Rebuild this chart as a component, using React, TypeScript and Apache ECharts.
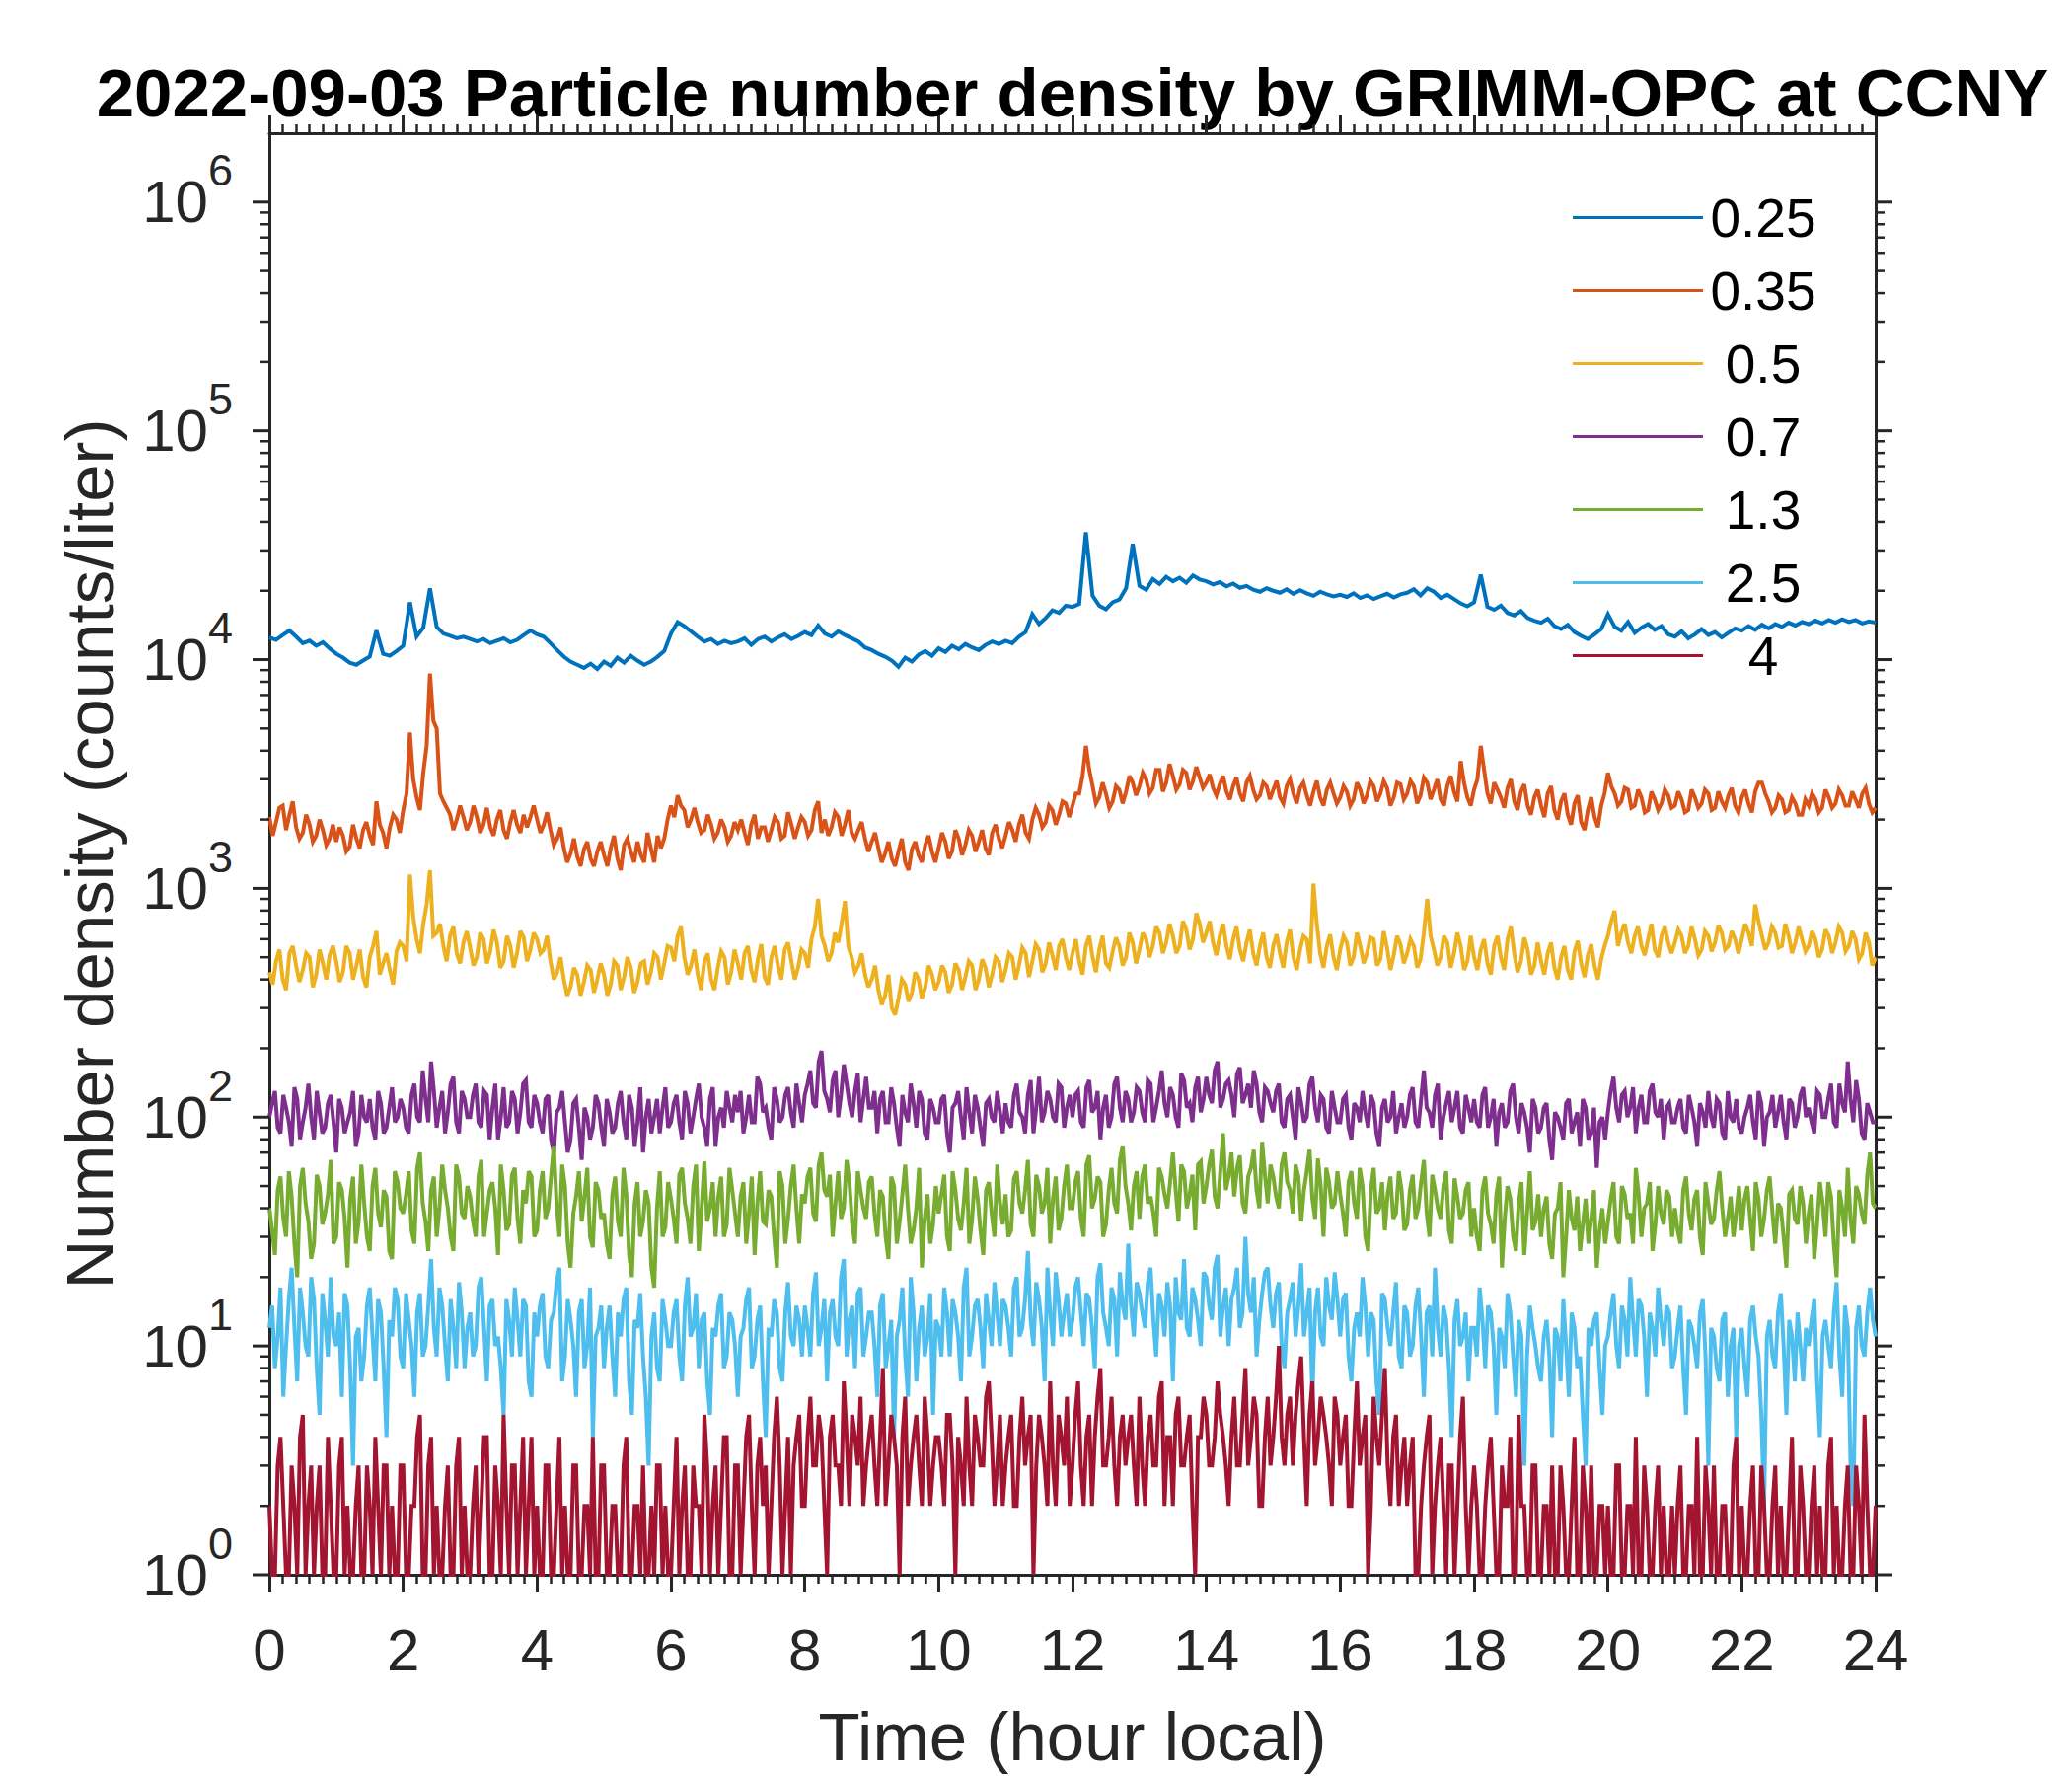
import React, { useEffect, useRef } from 'react';
import * as echarts from 'echarts';

const FONT = '"Liberation Sans", Arial, Helvetica, sans-serif';
const AXIS_COLOR = '#262626';

const sizeNames = ['0.25', '0.35', '0.5', '0.7', '1.3', '2.5', '4'];
const sizeColors = ['#0072BD', '#D95319', '#EDB120', '#7E2F8E', '#77AC30', '#4DBEEE', '#A2142F'];

const titleText = '2022-09-03 Particle number density by GRIMM-OPC at CCNY';
const xName = 'Time (hour local)';
const yName = 'Number density (counts/liter)';
const xMin = 0;
const xMax = 24;
const xStep = 2;
const yMin = 1;
const yMax = 2e6;
const yDecades = [1, 10, 100, 1000, 10000, 100000, 1000000];
const yMinorMultipliers = [2, 3, 4, 5, 6, 7, 8, 9];

// 0.1 h sampling (241 points)
const d025 = [
  12500, 12200, 12800, 13400, 12600, 11800, 12100, 11500, 11900, 11200,
  10600, 10200, 9700, 9500, 9900, 10300, 13400, 10600, 10400, 10900,
  11500, 17800, 12600, 13800, 20500, 13900, 13000, 12700, 12400, 12600,
  12300, 12000, 12300, 11800, 12100, 12400, 11900, 12200, 12800, 13400,
  12900, 12600, 11800, 11000, 10300, 9800, 9500, 9200, 9600, 9100,
  9800, 9400, 10200, 9700, 10400, 9900, 9500, 9800, 10300, 10900,
  13000, 14600, 14000, 13300, 12600, 12000, 12300, 11700, 12100, 11800,
  12000, 12400, 11600, 12300, 12600, 12000, 12500, 12900, 12300, 12700,
  13200, 12800, 14100, 13000, 12600, 13300, 12800, 12400, 12000, 11300,
  11000, 10600, 10300, 9900, 9300, 10200, 9800, 10500, 10900, 10400,
  11200, 10800, 11500, 11100, 11700, 11300, 11000, 11600, 12000, 11700,
  12100, 11800, 12600, 13200, 15800, 14300, 15200, 16400, 16000, 17200,
  17000, 17500, 36000, 19000, 17200, 16600, 17800, 18300, 20500, 32000,
  21000, 20200, 22500, 21400, 23000, 22000, 22800, 21700, 23300, 22400,
  22000, 21300, 21800, 20900, 21500, 20600, 21000, 20200, 19800, 20500,
  20000, 19600, 20300, 19400, 20100, 19500, 19000, 19800, 19300, 18900,
  19200, 18800, 19500, 18600, 19100, 18400, 18900, 19400, 18700, 19300,
  19600, 20300, 19100, 20500, 19800, 18600, 19200, 18400, 17600, 17100,
  17800, 23500, 17000, 16500, 17200, 16000, 15600, 16300, 15200, 14800,
  14500, 15100, 14000, 13600, 14200, 13200, 12700, 12300, 12900, 13600,
  15800, 13900, 13400, 14600, 13100, 13800, 14300, 13500, 14000, 12900,
  12600, 13300, 12400, 12900, 13600, 12800, 13200, 12500, 13100, 13700,
  13400, 14000, 13500, 14200, 13700, 14300, 13900, 14500, 14100, 14600,
  14300, 14800, 14400, 14900, 14500, 15000, 14600, 14900, 14400, 14700,
  14500,
];

const d035 = [
  2050, 1950, 2300, 2100, 1850, 1750, 1900, 1700, 1800, 1650,
  1600, 1700, 1520, 1650, 1800, 1700, 2400, 1750, 1850, 2000,
  2200, 4800, 2500, 3200, 8700, 5000, 2400, 2100, 2000, 2050,
  1950, 2050, 1900, 1850, 2000, 1800, 1950, 1900, 2100, 2050,
  2000, 1900, 1800, 1650, 1500, 1420, 1380, 1480, 1350, 1450,
  1400, 1500, 1350, 1550, 1450, 1600, 1300, 1500, 1700, 1650,
  2300, 2550, 2200, 2000, 1950, 1800, 1900, 1750, 1850, 1700,
  1800, 1750, 1900, 1650, 1850, 1800, 1950, 1700, 1900, 1850,
  1950, 1800, 2400, 2000, 1850, 2050, 1900, 1750, 1800, 1650,
  1600, 1500, 1420, 1350, 1450, 1300, 1480, 1400, 1550, 1450,
  1500, 1600, 1450, 1650, 1550, 1700, 1600, 1500, 1750, 1650,
  1700, 1800, 1900, 1750, 2000, 2100, 1950, 2200, 2100, 2350,
  2300, 2600, 4200, 2800, 2500, 2600, 2400, 2700, 2650, 2900,
  2800, 3000, 2750, 3300, 2900, 3100, 2850, 3200, 2950, 3050,
  2900, 2750, 2850, 2650, 2800, 2600, 2900, 2700, 2550, 2800,
  2700, 2500, 2800, 2600, 2750, 2550, 2650, 2500, 2700, 2600,
  2500, 2650, 2450, 2700, 2550, 2800, 2600, 2750, 2500, 2850,
  2600, 2800, 2550, 2900, 2700, 2450, 2800, 2650, 3600, 2500,
  2700, 4200, 2600, 2900, 2500, 2750, 2400, 2650, 2300, 2500,
  2300, 2600, 2200, 2400, 2100, 2350, 1950, 2200, 2050, 2300,
  3200, 2600, 2400, 2700, 2300, 2500, 2200, 2450, 2350, 2550,
  2300, 2450, 2200, 2500, 2350, 2600, 2250, 2400, 2550, 2300,
  2500, 2350, 2650, 2900, 2400, 2250, 2450, 2200, 2350, 2100,
  2300, 2450, 2250, 2500, 2350, 2550, 2300, 2450, 2600, 2350,
  2250,
];
const d035mid = [
  1700, 2250, 1800, 2400, 1650, 2100, 1600, 2000, 1550, 1900,
  1850, 1450, 1900, 1500, 1950, 1550, 1900, 1500, 2100, 1750,
  2600, 3000, 2200, 4200, 5400, 2600, 2250, 1800, 2300, 1800,
  2300, 1750, 2250, 1700, 2200, 1650, 2200, 1750, 1850, 2300,
  1750, 2150, 1550, 1850, 1300, 1650, 1250, 1600, 1250, 1600,
  1250, 1700, 1200, 1650, 1300, 1400, 1750, 1300, 1500, 2000,
  2050, 2300, 1850, 2250, 1750, 2100, 1650, 2000, 1600, 1950,
  2000, 1550, 2100, 1850, 1600, 2050, 1650, 2150, 1650, 2050,
  1700, 2200, 1750, 1700, 2150, 1700, 2200, 1650, 1950, 1450,
  1750, 1300, 1600, 1250, 1650, 1200, 1600, 1300, 1700, 1300,
  1750, 1350, 1800, 1400, 1800, 1450, 1800, 1400, 1900, 1500,
  1950, 1600, 2100, 1650, 2250, 1850, 2300, 1900, 2400, 2050,
  2600, 3100, 3300, 2350, 2900, 2250, 2800, 2350, 3100, 2550,
  3200, 2600, 3300, 2650, 3500, 2700, 3300, 2700, 3400, 2750,
  3150, 2550, 3100, 2450, 3050, 2400, 3100, 2450, 2900, 2450,
  2950, 2350, 3000, 2350, 2900, 2300, 2950, 2300, 2900, 2350,
  2800, 2300, 2900, 2350, 2950, 2400, 2950, 2300, 2900, 2450,
  2950, 2350, 3050, 2450, 3000, 2300, 3100, 2400, 2900, 2300,
  3000, 3300, 2350, 2700, 2250, 3000, 2200, 2850, 2100, 2700,
  2050, 2800, 2000, 2600, 1900, 2550, 1800, 2500, 1850, 2600,
  2800, 2300, 2750, 2250, 2700, 2150, 2650, 2200, 2700, 2250,
  2650, 2150, 2700, 2250, 2700, 2200, 2650, 2250, 2750, 2150,
  2700, 2150, 2900, 2600, 2150, 2550, 2150, 2500, 2100, 2450,
  2600, 2150, 2700, 2250, 2700, 2300, 2650, 2250, 2750, 2150,
];

const d05 = [
  430, 480, 400, 520, 460, 440, 500, 420, 470, 510,
  480, 430, 520, 460, 410, 500, 650, 470, 440, 530,
  560, 1150, 600, 700, 1200, 640, 560, 620, 520, 580,
  550, 500, 600, 530, 580, 480, 560, 520, 610, 540,
  600, 540, 480, 430, 400, 370, 420, 390, 440, 400,
  420, 380, 460, 410, 450, 390, 480, 430, 500, 470,
  550, 620, 500, 460, 420, 480, 400, 450, 500, 430,
  470, 520, 440, 490, 410, 500, 460, 540, 480, 450,
  520, 600, 900, 560, 520, 580, 880, 500, 460, 420,
  400, 360, 340, 300, 330, 380, 350, 400, 370, 420,
  390, 430, 380, 440, 410, 460, 400, 450, 420, 480,
  440, 500, 460, 520, 480, 540, 470, 510, 560, 500,
  520, 480, 560, 500, 540, 470, 530, 560, 500, 580,
  540, 600, 560, 640, 580, 620, 560, 660, 600, 700,
  640, 580, 620, 560, 600, 540, 580, 520, 560, 500,
  560, 520, 580, 500, 540, 600, 1050, 520, 560, 500,
  540, 580, 500, 560, 520, 600, 490, 550, 510, 570,
  520, 560, 490, 900, 540, 500, 580, 520, 560, 480,
  500, 540, 470, 560, 500, 600, 520, 480, 540, 460,
  480, 520, 450, 500, 440, 530, 470, 510, 460, 490,
  620, 800, 640, 580, 620, 560, 600, 540, 620, 580,
  580, 620, 560, 600, 540, 620, 580, 640, 560, 600,
  600, 640, 850, 620, 580, 640, 560, 620, 580, 600,
  560, 600, 540, 620, 580, 640, 560, 600, 520, 580,
  500,
];
const d05mid = [
  380, 540, 360, 560, 390, 520, 370, 540, 400, 560,
  390, 560, 400, 540, 370, 560, 420, 520, 380, 580,
  480, 750, 520, 850, 620, 700, 480, 680, 470, 650,
  460, 640, 470, 660, 450, 620, 450, 650, 480, 640,
  520, 620, 400, 500, 340, 450, 340, 460, 350, 470,
  340, 480, 360, 500, 350, 470, 380, 520, 400, 560,
  480, 680, 420, 540, 360, 520, 360, 530, 380, 540,
  400, 560, 390, 570, 380, 560, 400, 580, 400, 540,
  450, 680, 620, 480, 640, 700, 560, 430, 520, 370,
  460, 310, 420, 280, 400, 320, 430, 330, 460, 360,
  460, 350, 470, 360, 480, 360, 490, 370, 500, 390,
  520, 400, 550, 410, 570, 430, 580, 440, 600, 440,
  600, 420, 620, 430, 620, 450, 610, 460, 640, 470,
  640, 500, 680, 520, 700, 520, 720, 540, 780, 580,
  720, 510, 700, 490, 680, 480, 660, 460, 640, 450,
  630, 450, 660, 440, 620, 470, 700, 450, 630, 440,
  620, 460, 640, 470, 610, 460, 650, 440, 620, 470,
  600, 450, 640, 620, 460, 620, 450, 640, 440, 620,
  440, 600, 420, 620, 440, 680, 430, 610, 420, 580,
  420, 580, 400, 560, 400, 590, 410, 570, 400, 560,
  720, 560, 700, 520, 680, 510, 700, 500, 680, 520,
  660, 520, 680, 510, 650, 530, 690, 540, 650, 520,
  700, 560, 720, 540, 680, 550, 700, 520, 680, 530,
  650, 500, 660, 520, 680, 530, 650, 490, 640, 460,
];

// 5 min sampling on the hour grid (289 points) ...
const d07 = [
  100, 130, 85, 110, 75, 120, 95, 140, 80, 105, 90, 125,
  70, 110, 95, 130, 85, 100, 120, 80, 115, 90, 135, 100,
  110, 85, 140, 95, 120, 175, 90, 130, 105, 150, 85, 120,
  100, 140, 90, 125, 110, 80, 135, 95, 120, 105, 145, 90,
  115, 85, 125, 70, 110, 95, 80, 120, 65, 100, 90, 115,
  75, 105, 90, 130, 80, 110, 95, 70, 120, 100, 85, 135,
  95, 125, 80, 115, 100, 140, 90, 120, 75, 110, 130, 95,
  105, 85, 125, 95, 140, 110, 80, 120, 100, 135, 90, 115,
  125, 160, 110, 195, 120, 145, 100, 170, 115, 130, 95, 150,
  110, 85, 130, 95, 115, 75, 105, 140, 90, 120, 80, 110,
  95, 125, 70, 115, 100, 135, 85, 110, 75, 120, 95, 105,
  115, 90, 140, 100, 125, 85, 150, 105, 120, 95, 135, 110,
  100, 130, 90, 145, 110, 80, 125, 100, 150, 95, 120, 105,
  130, 95, 140, 110, 160, 100, 125, 90, 145, 115, 135, 105,
  150, 115, 175, 120, 145, 100, 165, 125, 110, 140, 95, 130,
  105, 140, 90, 125, 80, 115, 100, 150, 95, 120, 85, 110,
  95, 125, 80, 110, 130, 90, 115, 75, 120, 100, 85, 115,
  100, 135, 90, 160, 105, 125, 80, 115, 95, 130, 85, 110,
  120, 90, 135, 100, 75, 115, 95, 140, 85, 105, 70, 110,
  90, 115, 65, 100, 80, 120, 95, 75, 110, 85, 60, 100,
  105, 150, 95, 130, 110, 85, 125, 95, 140, 100, 80, 115,
  95, 120, 85, 110, 75, 105, 130, 90, 115, 80, 100, 120,
  85, 110, 95, 130, 75, 105, 90, 125, 80, 115, 100, 135,
  110, 85, 125, 100, 140, 90, 115, 175, 95, 120, 80, 105,
  95,
];
// ... and the samples 2.5 min later (288 points)
const d07mid = [
  115, 90, 125, 95, 135, 80, 110, 100, 130, 85, 115, 95,
  120, 85, 105, 75, 125, 95, 90, 130, 85, 110, 95, 120,
  90, 125, 100, 160, 95, 130, 110, 85, 140, 95, 130, 100,
  125, 95, 130, 80, 140, 100, 90, 130, 85, 140, 95, 125,
  95, 120, 80, 105, 130, 70, 115, 90, 110, 80, 125, 90,
  120, 85, 115, 95, 125, 75, 135, 100, 85, 120, 110, 90,
  115, 95, 130, 85, 120, 100, 75, 135, 100, 90, 110, 125,
  130, 100, 95, 150, 105, 90, 135, 95, 125, 105, 140, 95,
  140, 115, 175, 130, 105, 160, 125, 140, 100, 155, 120, 110,
  130, 120, 95, 135, 90, 125, 95, 115, 130, 85, 120, 95,
  120, 85, 110, 130, 80, 105, 125, 90, 115, 100, 130, 85,
  95, 125, 105, 85, 145, 110, 95, 130, 100, 140, 90, 125,
  125, 95, 135, 105, 130, 110, 90, 140, 110, 130, 95, 135,
  105, 145, 95, 130, 115, 135, 100, 155, 110, 95, 150, 120,
  125, 160, 110, 140, 125, 155, 115, 140, 160, 105, 135, 115,
  130, 95, 120, 100, 135, 95, 140, 110, 125, 90, 130, 95,
  120, 90, 115, 95, 105, 125, 85, 110, 95, 130, 100, 90,
  125, 95, 120, 110, 90, 140, 100, 130, 110, 90, 125, 95,
  95, 125, 90, 120, 105, 90, 130, 100, 115, 90, 120, 85,
  110, 80, 105, 90, 115, 85, 105, 120, 80, 110, 95, 80,
  130, 110, 125, 100, 135, 110, 95, 130, 105, 120, 110, 95,
  110, 90, 125, 95, 115, 90, 100, 120, 85, 130, 95, 90,
  100, 125, 80, 115, 100, 125, 105, 95, 120, 90, 125, 100,
  95, 130, 100, 120, 95, 140, 105, 120, 145, 85, 115, 95,
];

const d13 = [
  40, 25, 55, 30, 45, 20, 60, 35, 28, 50, 38, 65,
  30, 48, 22, 55, 35, 42, 26, 60, 33, 45, 24, 52,
  38, 58, 28, 70, 35, 48, 30, 62, 40, 26, 55, 36,
  45, 30, 65, 38, 52, 25, 48, 34, 60, 28, 42, 55,
  32, 58, 40, 75, 30, 50, 22, 45, 35, 60, 27, 48,
  38, 24, 55, 30, 46, 20, 52, 35, 42, 18, 58, 33,
  44, 28, 60, 36, 50, 26, 64, 40, 30, 55, 34, 48,
  30, 52, 38, 25, 58, 34, 45, 22, 50, 36, 62, 28,
  42, 60, 35, 70, 45, 30, 58, 40, 52, 28, 48, 36,
  55, 30, 45, 24, 50, 35, 62, 28, 40, 22, 46, 34,
  38, 56, 26, 48, 32, 60, 36, 44, 25, 52, 30, 42,
  46, 32, 58, 38, 65, 30, 50, 42, 28, 55, 36, 62,
  40, 58, 30, 68, 44, 52, 34, 60, 38, 75, 42, 50,
  36, 62, 45, 30, 55, 40, 70, 35, 58, 46, 32, 64,
  50, 72, 40, 85, 55, 45, 68, 38, 60, 48, 78, 42,
  55, 40, 70, 48, 62, 35, 58, 44, 66, 30, 52, 42,
  46, 30, 58, 36, 50, 26, 60, 40, 32, 55, 38, 48,
  34, 56, 40, 65, 30, 48, 36, 58, 28, 45, 38, 52,
  40, 26, 55, 34, 46, 22, 50, 30, 42, 25, 58, 35,
  30, 45, 24, 40, 20, 48, 32, 26, 44, 36, 22, 40,
  35, 52, 28, 46, 38, 60, 30, 42, 26, 50, 34, 45,
  40, 28, 55, 32, 48, 25, 42, 36, 58, 30, 45, 38,
  32, 50, 26, 44, 36, 55, 28, 40, 22, 48, 34, 42,
  38, 24, 52, 30, 45, 20, 40, 60, 28, 46, 34, 70,
  40,
];
const d13mid = [
  32, 48, 36, 58, 28, 50, 42, 24, 56, 34, 46, 28,
  52, 36, 44, 28, 62, 30, 50, 38, 48, 26, 58, 40,
  46, 32, 60, 42, 26, 55, 40, 48, 30, 62, 38, 50,
  35, 55, 30, 48, 40, 62, 32, 56, 36, 48, 58, 30,
  48, 36, 55, 42, 62, 28, 38, 58, 45, 30, 52, 36,
  28, 46, 35, 60, 25, 42, 30, 48, 22, 40, 30, 52,
  36, 56, 42, 28, 62, 40, 35, 52, 45, 30, 60, 38,
  45, 28, 55, 42, 35, 48, 30, 58, 28, 50, 40, 46,
  55, 38, 62, 48, 56, 42, 36, 65, 34, 58, 40, 52,
  38, 48, 30, 55, 28, 46, 40, 32, 60, 36, 28, 50,
  46, 30, 58, 36, 42, 28, 55, 32, 48, 38, 62, 34,
  30, 54, 42, 48, 34, 56, 38, 60, 44, 32, 50, 40,
  52, 36, 62, 40, 55, 30, 48, 42, 65, 50, 32, 58,
  55, 42, 38, 60, 46, 52, 48, 62, 40, 56, 62, 42,
  62, 45, 58, 48, 70, 60, 42, 55, 72, 40, 56, 62,
  45, 62, 52, 38, 55, 48, 72, 36, 50, 60, 40, 58,
  38, 52, 42, 60, 30, 48, 38, 52, 46, 36, 58, 32,
  48, 36, 52, 38, 56, 40, 50, 32, 54, 36, 48, 30,
  30, 48, 38, 28, 55, 36, 44, 26, 52, 38, 32, 46,
  40, 28, 38, 52, 30, 36, 45, 34, 28, 48, 32, 28,
  44, 30, 50, 36, 28, 46, 40, 52, 34, 38, 48, 30,
  32, 48, 38, 44, 30, 52, 34, 48, 40, 36, 30, 50,
  44, 36, 52, 30, 48, 38, 42, 30, 46, 36, 50, 28,
  46, 34, 42, 52, 28, 48, 30, 36, 50, 38, 56, 42,
];

const d25 = [
  12, 8, 18, 10, 22, 7, 14, 9, 16, 5, 13, 20,
  10, 6, 15, 3, 12, 9, 18, 7, 14, 4, 11, 16,
  8, 13, 6, 17, 10, 24, 9, 15, 7, 12, 19, 8,
  14, 10, 20, 7, 16, 11, 5, 13, 18, 9, 15, 6,
  11, 17, 8, 14, 22, 9, 13, 6, 16, 10, 4, 12,
  8, 15, 6, 11, 18, 5, 12, 9, 3, 14, 7, 13,
  10, 16, 7, 20, 12, 8, 14, 5, 11, 17, 9, 13,
  6, 12, 18, 9, 15, 4, 11, 14, 7, 19, 10, 13,
  15, 9, 21, 12, 7, 16, 10, 24, 13, 8, 18, 11,
  14, 6, 17, 10, 4, 13, 9, 20, 7, 15, 11, 5,
  12, 18, 9, 14, 7, 22, 11, 16, 8, 13, 19, 10,
  15, 9, 20, 12, 26, 10, 16, 7, 14, 21, 11, 17,
  13, 20, 10, 16, 8, 23, 12, 18, 9, 15, 28, 11,
  17, 12, 22, 9, 15, 19, 7, 14, 24, 11, 16, 10,
  20, 13, 25, 15, 10, 18, 12, 30, 14, 9, 17, 22,
  12, 19, 8, 16, 11, 23, 14, 6, 18, 10, 15, 21,
  11, 17, 7, 14, 20, 9, 13, 5, 16, 10, 19, 8,
  14, 10, 18, 6, 15, 22, 9, 13, 4, 16, 11, 7,
  12, 18, 8, 14, 5, 11, 17, 9, 13, 3, 15, 10,
  7, 13, 4, 11, 16, 6, 12, 9, 3, 10, 14, 5,
  11, 17, 8, 13, 20, 9, 15, 6, 12, 18, 10, 14,
  9, 15, 5, 12, 8, 16, 3, 11, 7, 14, 10, 4,
  12, 6, 15, 9, 2, 13, 8, 17, 5, 11, 14, 7,
  10, 16, 4, 13, 8, 19, 6, 12, 2, 15, 9, 18,
  11,
];
const d25mid = [
  15, 11, 6, 16, 12, 18, 10, 20, 8, 17, 9, 11,
  14, 17, 8, 11, 7, 15, 11, 16, 8, 13, 18, 9,
  17, 10, 14, 9, 15, 12, 18, 10, 16, 8, 14, 12,
  9, 18, 12, 15, 10, 8, 16, 9, 13, 16, 7, 14,
  15, 9, 13, 19, 7, 16, 10, 14, 8, 18, 11, 15,
  12, 9, 14, 16, 7, 13, 17, 6, 11, 8, 16, 10,
  14, 9, 15, 11, 17, 13, 7, 12, 15, 8, 14, 10,
  11, 16, 8, 13, 7, 12, 16, 8, 14, 11, 15, 9,
  12, 17, 10, 16, 14, 11, 20, 9, 15, 17, 9, 14,
  10, 15, 8, 13, 11, 18, 6, 14, 12, 9, 17, 13,
  9, 14, 16, 11, 18, 9, 15, 12, 17, 10, 14, 16,
  12, 18, 11, 16, 13, 19, 12, 22, 10, 16, 14, 11,
  18, 14, 17, 12, 20, 14, 10, 16, 21, 13, 15, 19,
  14, 19, 13, 17, 11, 15, 20, 13, 12, 18, 13, 21,
  15, 22, 11, 18, 16, 22, 14, 17, 20, 13, 21, 15,
  17, 10, 14, 19, 15, 11, 18, 14, 11, 20, 13, 16,
  16, 9, 12, 11, 15, 14, 7, 17, 12, 14, 9, 15,
  9, 15, 11, 14, 9, 12, 15, 8, 13, 10, 14, 12,
  9, 13, 15, 10, 12, 8, 14, 6, 11, 9, 12, 8,
  11, 9, 12, 7, 10, 14, 8, 5, 12, 13, 8, 10,
  14, 10, 15, 9, 13, 16, 11, 14, 9, 13, 15, 8,
  12, 8, 13, 10, 14, 9, 12, 8, 13, 6, 12, 10,
  8, 13, 11, 5, 11, 9, 14, 10, 13, 7, 10, 12,
  13, 7, 11, 10, 14, 9, 15, 3, 12, 10, 14, 13,
];

const d4 = [
  2, 1, 4, 1, 3, 1, 5, 2, 1, 3, 1, 2,
  1, 4, 2, 1, 3, 1, 2, 4, 1, 3, 2, 1,
  3, 1, 2, 5, 1, 4, 2, 1, 3, 1, 4, 2,
  1, 3, 2, 4, 1, 2, 5, 1, 3, 2, 1, 4,
  2, 1, 3, 1, 4, 2, 1, 3, 1, 2, 4, 1,
  3, 1, 2, 1, 4, 1, 2, 3, 1, 1, 3, 2,
  1, 4, 2, 1, 3, 2, 5, 1, 3, 2, 4, 1,
  3, 2, 5, 1, 4, 3, 2, 6, 1, 4, 3, 5,
  2, 6, 3, 4, 1, 5, 3, 7, 2, 4, 6, 3,
  5, 2, 8, 3, 4, 1, 6, 3, 5, 2, 4, 3,
  4, 2, 5, 1, 3, 6, 2, 4, 3, 7, 2, 5,
  3, 5, 2, 6, 4, 1, 5, 3, 7, 2, 4, 6,
  3, 7, 2, 5, 4, 8, 3, 6, 2, 5, 4, 3,
  6, 2, 5, 3, 7, 4, 2, 6, 3, 5, 1, 4,
  5, 3, 7, 4, 2, 6, 3, 8, 4, 5, 2, 6,
  4, 10, 3, 6, 5, 9, 2, 7, 4, 5, 3, 6,
  3, 5, 2, 7, 4, 1, 6, 3, 8, 2, 5, 3,
  2, 4, 1, 3, 5, 2, 4, 1, 3, 2, 6, 1,
  3, 1, 2, 4, 1, 3, 2, 1, 5, 2, 1, 3,
  1, 2, 3, 1, 2, 1, 4, 1, 2, 3, 1, 2,
  2, 1, 3, 1, 2, 4, 1, 2, 1, 3, 2, 1,
  1, 3, 1, 2, 4, 1, 2, 3, 1, 2, 1, 4,
  2, 1, 3, 1, 2, 1, 3, 2, 1, 4, 1, 2,
  1, 3, 2, 1, 4, 2, 1, 3, 1, 2, 5, 1,
  2,
];
const d4mid = [
  1, 3, 2, 1, 2, 4, 1, 3, 2, 1, 4, 1,
  3, 1, 1, 2, 1, 3, 1, 2, 3, 1, 1, 3,
  1, 2, 4, 1, 3, 1, 1, 2, 1, 3, 1, 1,
  2, 1, 4, 1, 3, 1, 2, 3, 1, 4, 2, 1,
  1, 3, 1, 2, 1, 1, 3, 1, 2, 1, 1, 3,
  1, 2, 1, 3, 1, 2, 1, 1, 2, 3, 1, 1,
  2, 1, 3, 1, 2, 1, 3, 2, 1, 4, 1, 3,
  1, 4, 2, 3, 2, 1, 4, 3, 2, 1, 4, 2,
  4, 3, 5, 2, 4, 3, 2, 4, 5, 3, 2, 4,
  3, 4, 2, 5, 3, 4, 2, 4, 3, 6, 2, 4,
  3, 5, 3, 4, 2, 3, 5, 3, 6, 4, 3, 2,
  4, 2, 4, 3, 5, 3, 4, 2, 3, 5, 3, 2,
  5, 3, 4, 2, 6, 3, 4, 3, 4, 3, 5, 2,
  3, 4, 3, 6, 2, 4, 5, 3, 4, 2, 4, 6,
  3, 4, 5, 3, 4, 3, 5, 3, 6, 2, 4, 3,
  6, 4, 5, 3, 7, 4, 5, 3, 6, 4, 2, 5,
  4, 2, 4, 3, 5, 2, 4, 5, 3, 4, 2, 4,
  3, 1, 2, 4, 1, 3, 2, 3, 1, 4, 2, 2,
  2, 1, 3, 2, 1, 2, 4, 1, 2, 1, 3, 1,
  2, 1, 1, 3, 1, 2, 1, 3, 1, 1, 2, 1,
  1, 3, 1, 2, 1, 1, 3, 1, 2, 1, 1, 2,
  2, 1, 2, 1, 1, 3, 1, 1, 2, 1, 3, 1,
  1, 2, 1, 3, 1, 2, 1, 1, 2, 1, 3, 1,
  2, 1, 1, 3, 1, 1, 2, 1, 3, 1, 2, 1,
];

function interleave(onGrid: number[], between: number[]) {
  const out: number[] = [];
  onGrid.forEach((v, i) => {
    out.push(v);
    if (i < between.length) out.push(between[i]);
  });
  return out;
}

const seriesValues = [
  d025,
  interleave(d035, d035mid),
  interleave(d05, d05mid),
  interleave(d07, d07mid),
  interleave(d13, d13mid),
  interleave(d25, d25mid),
  interleave(d4, d4mid),
];

function toPairs(values: number[]) {
  const n = values.length;
  return values.map((v, i) => [xMin + (i * (xMax - xMin)) / (n - 1), v]);
}

export default function App() {
  const ref = useRef<HTMLDivElement>(null);

  useEffect(() => {
    document.body.style.margin = '0';
    if (!ref.current) return;
    const chart = echarts.init(ref.current, undefined, { renderer: 'svg' });

    const tickData: number[][] = [];
    yDecades.forEach((d) => {
      tickData.push([0, d, 17]);
      if (d < 1000000) yMinorMultipliers.forEach((m) => tickData.push([0, m * d, 9]));
    });

    const lineSeries = sizeNames.map((name, i) => ({
      name,
      type: 'line',
      xAxisIndex: 0,
      yAxisIndex: 0,
      data: toPairs(seriesValues[i]),
      showSymbol: false,
      symbol: 'none',
      lineStyle: { color: sizeColors[i], width: 4, join: 'miter', miterLimit: 3 },
      itemStyle: { color: sizeColors[i] },
      z: 2 + i,
      silent: true,
    }));

    const xAxisBase = {
      type: 'value',
      min: xMin,
      max: xMax,
      interval: xStep,
      axisLine: { show: true, onZero: false, lineStyle: { color: AXIS_COLOR, width: 3 } },
      axisTick: { show: true, inside: false, length: 18, lineStyle: { color: AXIS_COLOR, width: 3 } },
      minorTick: { show: true, splitNumber: 10, length: 9, lineStyle: { color: AXIS_COLOR, width: 2.5 } },
      splitLine: { show: false },
      minorSplitLine: { show: false },
    };

    const yAxisBase = {
      type: 'log',
      logBase: 10,
      min: yMin,
      max: yMax,
      axisLine: { show: true, onZero: false, lineStyle: { color: AXIS_COLOR, width: 3 } },
      axisTick: { show: false },
      splitLine: { show: false },
    };

    const option = {
      animation: false,
      backgroundColor: '#ffffff',
      graphic: [
        {
          type: 'text',
          x: 1087,
          y: 94,
          style: {
            text: titleText,
            font: `bold 69px ${FONT}`,
            fill: '#000000',
            align: 'center',
            verticalAlign: 'middle',
          },
        },
      ],
      grid: { left: 273, right: 199, top: 135, bottom: 204, containLabel: false },
      legend: {
        orient: 'vertical',
        left: 1589,
        top: 188,
        itemWidth: 132,
        itemHeight: 3,
        itemGap: 19,
        icon: 'rect',
        data: sizeNames,
        selectedMode: false,
        formatter: '{c|{name}}',
        textStyle: {
          fontFamily: FONT,
          fontSize: 55,
          color: '#000000',
          lineHeight: 55,
          rich: { c: { width: 112, align: 'center', fontFamily: FONT, fontSize: 55, lineHeight: 55, color: '#000000' } },
        },
      },
      xAxis: [
        {
          ...xAxisBase,
          position: 'bottom',
          name: xName,
          nameLocation: 'middle',
          nameGap: 130,
          nameTextStyle: { fontFamily: FONT, fontSize: 69, color: AXIS_COLOR },
          axisLabel: { show: true, margin: 46, fontFamily: FONT, fontSize: 60, color: AXIS_COLOR },
        },
        {
          ...xAxisBase,
          position: 'top',
          axisLabel: { show: false },
        },
      ],
      yAxis: [
        {
          ...yAxisBase,
          position: 'left',
          name: yName,
          nameLocation: 'middle',
          nameGap: 147,
          nameTextStyle: { fontFamily: FONT, fontSize: 69, color: AXIS_COLOR },
          axisLabel: {
            show: true,
            margin: 37,
            showMaxLabel: false,
            formatter: (v: number) => {
              const e = Math.log10(v);
              if (Math.abs(e - Math.round(e)) > 1e-6) return '';
              return `{b|10}{s|${Math.round(e)}}`;
            },
            rich: {
              b: { fontFamily: FONT, fontSize: 60, lineHeight: 60, color: AXIS_COLOR, verticalAlign: 'middle' },
              s: { fontFamily: FONT, fontSize: 45, lineHeight: 45, color: AXIS_COLOR, verticalAlign: 'middle', padding: [0, 0, 64, 0] },
            },
          },
        },
        {
          ...yAxisBase,
          position: 'right',
          axisLabel: { show: false },
        },
      ],
      series: [
        ...lineSeries,
        {
          name: 'yTicks',
          type: 'custom',
          xAxisIndex: 0,
          yAxisIndex: 0,
          silent: true,
          clip: false,
          z: 20,
          data: tickData,
          renderItem: (params: any, api: any) => {
            const p = api.coord([0, api.value(1)]);
            const len = api.value(2);
            const cs = params.coordSys;
            const style = { stroke: AXIS_COLOR, lineWidth: len > 10 ? 3 : 2.5 };
            return {
              type: 'group',
              children: [
                { type: 'line', shape: { x1: cs.x, y1: p[1], x2: cs.x - len, y2: p[1] }, style },
                { type: 'line', shape: { x1: cs.x + cs.width, y1: p[1], x2: cs.x + cs.width + len, y2: p[1] }, style },
              ],
            };
          },
        },
      ],
    };

    chart.setOption(option as any);
    return () => chart.dispose();
  }, []);

  return <div ref={ref} style={{ width: 2100, height: 1800 }} />;
}
